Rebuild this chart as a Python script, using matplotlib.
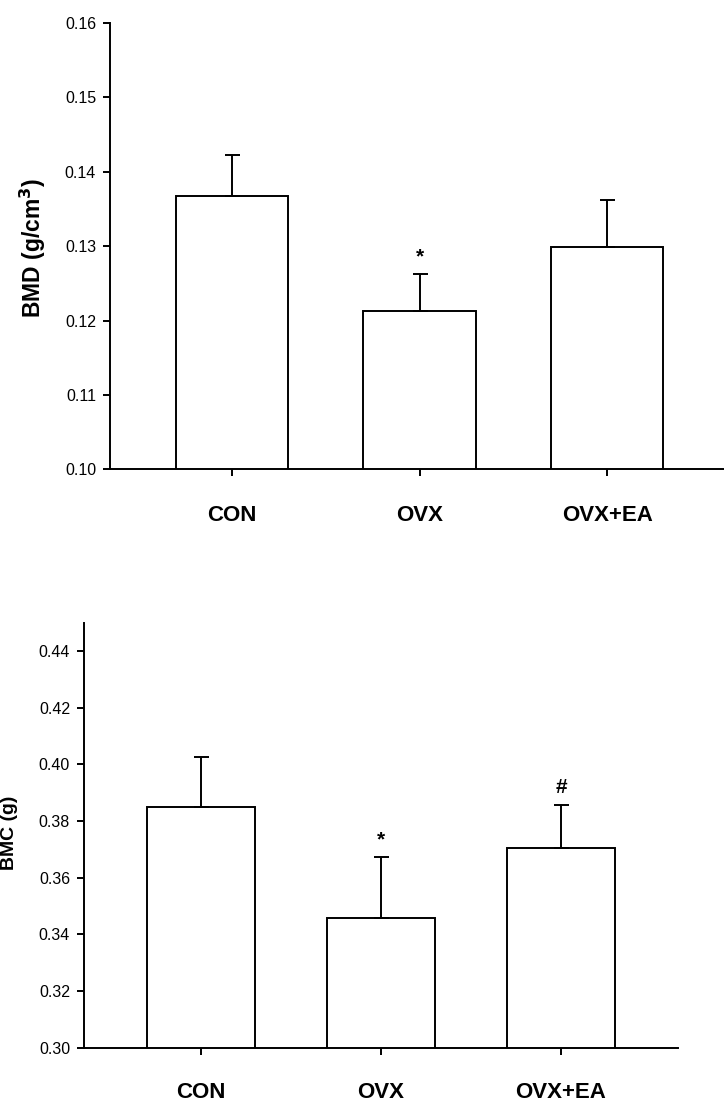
import matplotlib
matplotlib.use("Agg")
import matplotlib.pyplot as plt
import numpy as np

plt.rcParams['font.family'] = ['Liberation Sans', 'DejaVu Sans']

# ---- data ----
groups = ["CON", "OVX", "OVX+EA"]

bmd_mean = [0.1368, 0.1213, 0.1299]
bmd_err = [0.0055, 0.0050, 0.0063]
bmd_marks = ["", "*", ""]
bmd_ticks = [0.10, 0.11, 0.12, 0.13, 0.14, 0.15, 0.16]

bmc_mean = [0.3849, 0.3457, 0.3704]
bmc_err = [0.0176, 0.0217, 0.0154]
bmc_marks = ["", "*", "#"]
bmc_ticks = [0.30, 0.32, 0.34, 0.36, 0.38, 0.40, 0.42, 0.44]

W, H = 724, 1102
fig = plt.figure(figsize=(W / 100, H / 100), dpi=100)


def px_axes(left, right, top, bottom):
    return fig.add_axes([left / W, 1 - bottom / H, (right - left) / W, (bottom - top) / H])


def draw_panel(ax, means, errs, marks, ticks, ylim, ylabel, lab_xy, lab_size, cat_offset):
    x = np.arange(len(groups))
    lw = 1.4
    ax.bar(x, means, width=0.6, color="white", edgecolor="black", linewidth=lw, zorder=2)
    ax.errorbar(x, means, yerr=[np.zeros(len(errs)), errs], fmt="none", ecolor="black",
                elinewidth=lw, capsize=5.4, capthick=lw, zorder=3)
    ax.set_xlim(-0.65, 2.65)
    ax.set_ylim(*ylim)
    ax.set_yticks(ticks)
    ax.set_yticklabels([f"{t:.2f}" for t in ticks])
    ax.set_xticks(x)
    ax.set_xticklabels([])
    for s in ["top", "right"]:
        ax.spines[s].set_visible(False)
    for s in ["left", "bottom"]:
        ax.spines[s].set_linewidth(lw)
    ax.tick_params(axis="both", direction="out", length=5, width=lw, labelsize=11.5, pad=5)
    for xi, m, e, mk in zip(x, means, errs, marks):
        if mk:
            ax.annotate(mk, xy=(xi, m + e), xytext=(0, 8), textcoords="offset points",
                        ha="center", va="baseline", fontsize=15, fontweight="bold")
    for xi, g in zip(x, groups):
        ax.annotate(g, xy=(xi, 0), xycoords=("data", "axes fraction"),
                    xytext=(0, cat_offset), textcoords="offset points",
                    ha="center", va="center", fontsize=16, fontweight="bold")
    fig.text(lab_xy[0] / W, 1 - lab_xy[1] / H, ylabel, rotation=90, ha="center",
             va="center", fontsize=lab_size, fontweight="bold")


ax1 = px_axes(110, 729, 23, 469.3)
draw_panel(ax1, bmd_mean, bmd_err, bmd_marks, bmd_ticks, (0.10, 0.16),
           r"BMD (g/cm$^\mathbf{3}$)", (33, 248), 16.5, -33)

ax2 = px_axes(84, 678, 622.7, 1047.7)
draw_panel(ax2, bmc_mean, bmc_err, bmc_marks, bmc_ticks, (0.30, 0.45),
           "BMC (g)", (9, 833), 14, -32)

fig.savefig("out.png", dpi=100)
